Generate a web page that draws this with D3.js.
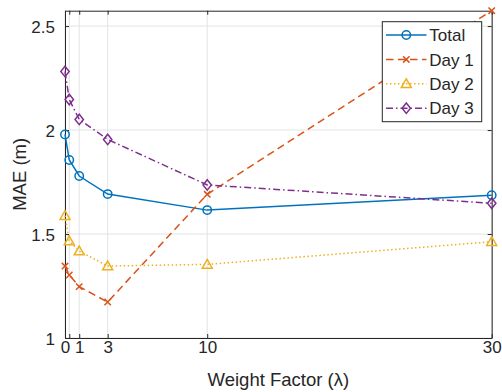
<!DOCTYPE html>
<html><head><meta charset="utf-8">
<script src="https://cdn.jsdelivr.net/npm/d3@7"></script>
<style>body{margin:0;background:#fff}svg{display:block}text{font-family:"Liberation Sans",Arial,sans-serif;fill:#262626}</style>
</head><body>
<svg id="c" width="502" height="392"></svg>
<script>
const lambdas = [0, 0.3, 1, 3, 10, 30];
const total = [1.979, 1.856, 1.779, 1.692, 1.615, 1.687];
const day1 = [1.346, 1.303, 1.247, 1.173, 1.691, 2.574];
const day2 = [1.588, 1.466, 1.418, 1.346, 1.354, 1.463];
const day3 = [2.282, 2.147, 2.051, 1.955, 1.736, 1.648];
const seriesNames = ["Total", "Day 1", "Day 2", "Day 3"];
const xTicks = [0, 0.3, 1, 3, 10, 30];
const xTickLabels = ["0", "", "1", "3", "10", "30"];
const yTicks = [1, 1.5, 2, 2.5];
const yTickLabels = ["1", "1.5", "2", "2.5"];

const colors = ["#0072BD", "#D95319", "#EDB120", "#7E2F8E"];
const dashes = [null, "7.5,4.5", "1.5,2.5", "7,3,1.5,3"];
const markers = ["circle", "x", "tri", "diamond"];

const svg = d3.select("#c");
const L = 65, R = 491.7, T = 10.7, B = 338;
const x = d3.scaleLinear().domain([0, 30]).range([L, R]);
const y = d3.scaleLinear().domain([1, 2.574]).range([B, T]);

// grid
const g = svg.append("g");
g.selectAll(".gx").data(xTicks).enter().append("line")
  .attr("x1", d => x(d)).attr("x2", d => x(d)).attr("y1", T).attr("y2", B)
  .attr("stroke", "#e3e3e3").attr("stroke-width", 1);
g.selectAll(".gy").data(yTicks).enter().append("line")
  .attr("y1", d => y(d)).attr("y2", d => y(d)).attr("x1", L).attr("x2", R)
  .attr("stroke", "#e3e3e3").attr("stroke-width", 1);

// axes via d3
const axB = svg.append("g").attr("transform", `translate(0,${B})`)
  .call(d3.axisBottom(x).tickValues(xTicks).tickSizeInner(-4).tickSizeOuter(0).tickPadding(14).tickFormat((d,i) => xTickLabels[i]));
const axT = svg.append("g").attr("transform", `translate(0,${T})`)
  .call(d3.axisTop(x).tickValues(xTicks).tickSizeInner(-4).tickSizeOuter(0).tickFormat(""));
const axLft = svg.append("g").attr("transform", `translate(${L},0)`)
  .call(d3.axisLeft(y).tickValues(yTicks).tickSizeInner(-4).tickSizeOuter(0).tickPadding(10).tickFormat((d,i) => yTickLabels[i]));
const axR = svg.append("g").attr("transform", `translate(${R},0)`)
  .call(d3.axisRight(y).tickValues(yTicks).tickSizeInner(-4).tickSizeOuter(0).tickFormat(""));
[axB, axT, axLft, axR].forEach(a => {
  a.select(".domain").attr("stroke", "#262626").attr("stroke-width", 1);
  a.selectAll(".tick line").attr("stroke", "#262626");
  a.selectAll("text").style("font-size", "17px").attr("fill", "#262626");
});
axB.selectAll("text").attr("dy", "0.05em");
axLft.selectAll("text").attr("dy", "0.36em");

// labels
svg.append("text").attr("x", (L + R) / 2).attr("y", 386).attr("text-anchor", "middle")
  .style("font-size", "18.5px").text("Weight Factor (λ)");
svg.append("text").attr("transform", `translate(26,${(T + B) / 2}) rotate(-90)`)
  .attr("text-anchor", "middle").style("font-size", "18.5px").text("MAE (m)");

const data = [total, day1, day2, day3];

function drawMarker(sel, type, cx, cy, color) {
  if (type === "circle") {
    sel.append("circle").attr("cx", cx).attr("cy", cy).attr("r", 4.2)
      .attr("fill", "none").attr("stroke", color).attr("stroke-width", 1.5);
  } else if (type === "x") {
    const s = 3.2;
    sel.append("path").attr("d", `M${cx-s},${cy-s}L${cx+s},${cy+s}M${cx-s},${cy+s}L${cx+s},${cy-s}`)
      .attr("stroke", color).attr("stroke-width", 1.5).attr("fill", "none");
  } else if (type === "tri") {
    const s = 5;
    sel.append("path").attr("d", `M${cx},${cy-s}L${cx+s},${cy+s*0.75}L${cx-s},${cy+s*0.75}Z`)
      .attr("stroke", color).attr("stroke-width", 1.5).attr("fill", "none");
  } else {
    const w = 4.2, h = 5.2;
    sel.append("path").attr("d", `M${cx},${cy-h}L${cx+w},${cy}L${cx},${cy+h}L${cx-w},${cy}Z`)
      .attr("stroke", color).attr("stroke-width", 1.5).attr("fill", "none");
  }
}

const line = d3.line().x((d, i) => x(lambdas[i])).y(d => y(d));
data.forEach((vals, k) => {
  const gs = svg.append("g");
  gs.append("path").attr("d", line(vals)).attr("fill", "none")
    .attr("stroke", colors[k]).attr("stroke-width", 1.5)
    .attr("stroke-dasharray", dashes[k]);
  vals.forEach((v, i) => drawMarker(gs, markers[k], x(lambdas[i]), y(v), colors[k]));
});

// legend
const lg = svg.append("g");
lg.append("rect").attr("x", 382.3).attr("y", 21.7).attr("width", 99.4).attr("height", 100)
  .attr("fill", "#fff").attr("stroke", "#262626").attr("stroke-width", 1);
seriesNames.forEach((name, k) => {
  const cy = 35 + k * 24.4;
  lg.append("line").attr("x1", 386).attr("x2", 426.5).attr("y1", cy).attr("y2", cy)
    .attr("stroke", colors[k]).attr("stroke-width", 1.5).attr("stroke-dasharray", dashes[k]);
  drawMarker(lg, markers[k], 406.3, cy, colors[k]);
  lg.append("text").attr("x", 429.3).attr("y", cy).attr("dy", "0.36em")
    .style("font-size", "17px").text(name);
});
</script>
</body></html>
